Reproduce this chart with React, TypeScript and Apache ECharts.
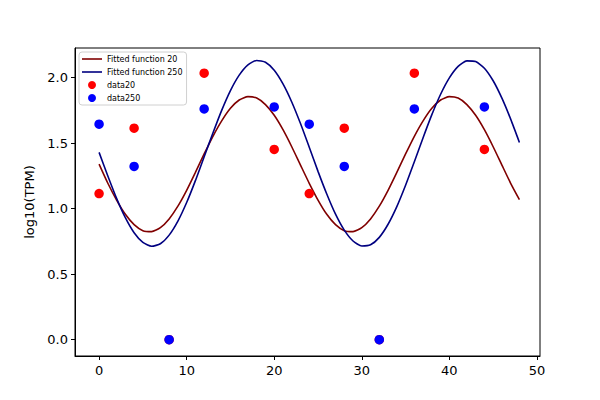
import React, { useEffect, useRef } from "react";
import * as echarts from "echarts";

const xTicks = [0, 10, 20, 30, 40, 50];
const yTicks = [0, 0.5, 1.0, 1.5, 2.0];

const fitX = [
  0, 1, 2, 3, 4, 5, 6, 7, 8, 9, 10, 11, 12, 13, 14, 15, 16, 17, 18, 19, 20, 21, 22, 23, 24,
  25, 26, 27, 28, 29, 30, 31, 32, 33, 34, 35, 36, 37, 38, 39, 40, 41, 42, 43, 44, 45, 46, 47, 48,
];
const fit20 = [
  1.34, 1.194, 1.066, 0.957, 0.878, 0.832, 0.825, 0.855, 0.922, 1.019, 1.14, 1.277, 1.418,
  1.553, 1.671, 1.767, 1.83, 1.856, 1.845, 1.795, 1.713, 1.603, 1.473, 1.333, 1.194, 1.066,
  0.957, 0.878, 0.832, 0.825, 0.855, 0.922, 1.019, 1.14, 1.277, 1.418, 1.553, 1.671, 1.767,
  1.83, 1.856, 1.845, 1.795, 1.713, 1.603, 1.473, 1.333, 1.194, 1.069,
];
const fit250 = [
  1.43, 1.25, 1.079, 0.931, 0.816, 0.742, 0.713, 0.732, 0.798, 0.905, 1.047, 1.214, 1.396,
  1.578, 1.751, 1.902, 2.02, 2.099, 2.132, 2.118, 2.057, 1.953, 1.815, 1.65, 1.469, 1.285,
  1.112, 0.958, 0.836, 0.753, 0.715, 0.724, 0.781, 0.881, 1.016, 1.179, 1.358, 1.542, 1.718,
  1.874, 1.999, 2.087, 2.129, 2.124, 2.073, 1.977, 1.844, 1.684, 1.506,
];

const dataX = [0, 4, 8, 12, 20, 24, 28, 32, 36, 44];
const data20 = [1.115, 1.615, 0, 2.035, 1.452, 1.115, 1.615, 0, 2.035, 1.452];
const data250 = [1.645, 1.323, 0, 1.762, 1.777, 1.645, 1.323, 0, 1.762, 1.777];

const FONT = "DejaVu Sans";
const LINE_ICON = "path://M0,0H20V1.6H0Z";

export default function App() {
  const ref = useRef<HTMLDivElement>(null);
  useEffect(() => {
    document.body.style.margin = "0";
    const chart = echarts.init(ref.current!, null, { renderer: "svg" });
    const pairs = (xs: number[], ys: number[]) => xs.map((x, i) => [x, ys[i]]);
    chart.setOption({
      animation: false,
      backgroundColor: "#fff",
      textStyle: { fontFamily: FONT },
      grid: {
        left: 75,
        top: 48,
        width: 465,
        height: 308,
        show: true,
        borderColor: "#000",
        borderWidth: 1,
        backgroundColor: "transparent",
      },
      legend: {
        orient: "vertical",
        left: 79,
        top: 52,
        padding: [3, 4, 3, 3],
        itemWidth: 20,
        itemHeight: 8,
        itemGap: 5,
        symbolKeepAspect: true,
        borderColor: "#d0d0d0",
        borderWidth: 1,
        borderRadius: 3,
        backgroundColor: "rgba(255,255,255,0.8)",
        textStyle: { fontFamily: FONT, fontSize: 8, color: "#000" },
        data: [
          { name: "Fitted function 20", icon: LINE_ICON },
          { name: "Fitted function 250", icon: LINE_ICON },
          { name: "data20", icon: "circle" },
          { name: "data250", icon: "circle" },
        ],
      },
      xAxis: {
        type: "value",
        min: -2.75,
        max: 50.35,
        splitLine: { show: false },
        axisLine: { show: true, onZero: false, lineStyle: { color: "#000", width: 1 } },
        axisTick: { show: true, length: 4, customValues: xTicks, lineStyle: { color: "#000" } },
        axisLabel: {
          customValues: xTicks,
          color: "#000",
          fontSize: 13,
          fontFamily: FONT,
          margin: 8,
          formatter: (v: number) => String(v),
        },
      },
      yAxis: {
        type: "value",
        min: -0.125,
        max: 2.227,
        name: "log10(TPM)",
        nameLocation: "middle",
        nameGap: 38,
        nameRotate: 90,
        nameTextStyle: { color: "#000", fontSize: 13, fontFamily: FONT },
        splitLine: { show: false },
        axisLine: { show: true, onZero: false, lineStyle: { color: "#000", width: 1 } },
        axisTick: { show: true, length: 4, customValues: yTicks, lineStyle: { color: "#000" } },
        axisLabel: {
          customValues: yTicks,
          color: "#000",
          fontSize: 13,
          fontFamily: FONT,
          margin: 7,
          formatter: (v: number) => v.toFixed(1),
        },
      },
      series: [
        {
          name: "Fitted function 20",
          type: "line",
          data: pairs(fitX, fit20),
          smooth: 0.2,
          symbol: "none",
          lineStyle: { color: "#800000", width: 1.6 },
          itemStyle: { color: "#800000" },
          z: 2,
        },
        {
          name: "Fitted function 250",
          type: "line",
          data: pairs(fitX, fit250),
          smooth: 0.2,
          symbol: "none",
          lineStyle: { color: "#000080", width: 1.6 },
          itemStyle: { color: "#000080" },
          z: 2,
        },
        {
          name: "data20",
          type: "scatter",
          data: pairs(dataX, data20),
          symbolSize: 9.5,
          itemStyle: { color: "#ff0000", opacity: 1 },
          z: 3,
        },
        {
          name: "data250",
          type: "scatter",
          data: pairs(dataX, data250),
          symbolSize: 9.5,
          itemStyle: { color: "#0000ff", opacity: 1 },
          z: 4,
        },
      ],
    });
    return () => chart.dispose();
  }, []);
  return <div ref={ref} style={{ width: 600, height: 400 }} />;
}
